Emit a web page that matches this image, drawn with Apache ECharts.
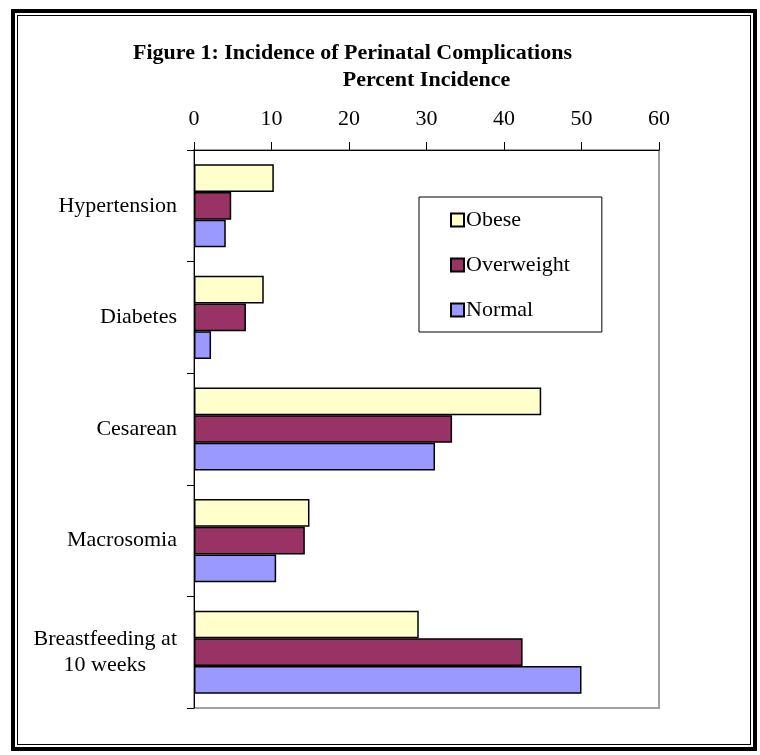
<!DOCTYPE html>
<html>
<head>
<meta charset="utf-8">
<script src="https://cdn.jsdelivr.net/npm/echarts@6/dist/echarts.min.js"></script>
<style>
  html, body { margin: 0; padding: 0; background: #fff; }
  #frame { position: absolute; left: 11px; top: 9px; width: 738px; height: 734px; border: 4px solid #000; }
  #frame-inner { position: absolute; left: 2px; top: 2px; right: 2px; bottom: 2px; border: 1px solid #000; }
  #chart { position: absolute; left: 0; top: 0; width: 760px; height: 755px; }
</style>
</head>
<body>
<div id="frame"><div id="frame-inner"></div></div>
<div id="chart"></div>
<script>
// Perinatal complications by maternal weight group (percent incidence)
const categories = ['Hypertension', 'Diabetes', 'Cesarean', 'Macrosomia', 'Breastfeeding at 10 weeks'];
const obese      = [10.3, 9.0, 44.8, 14.9, 29.0];
const overweight = [4.8, 6.7, 33.3, 14.3, 42.4];
const normal     = [4.1, 2.2, 31.1, 10.6, 50.0];
const xTicks = { min: 0, max: 60, step: 10 };

const FONT = '"Liberation Serif", "Times New Roman", serif';
const barBorder = { borderColor: '#000', borderWidth: 1.5 };

const chart = echarts.init(document.getElementById('chart'), null, { renderer: 'canvas' });

chart.setOption({
  backgroundColor: 'transparent',
  animation: false,
  textStyle: { fontFamily: FONT, color: '#000' },
  title: {
    text: 'Figure 1: Incidence of Perinatal Complications',
    left: 128,
    top: 37,
    textStyle: { fontFamily: FONT, fontSize: 22, fontWeight: 'bold', color: '#000' }
  },
  legend: {
    orient: 'vertical',
    left: 419,
    top: 197,
    padding: [12, 32, 11, 31],
    itemGap: 23,
    itemWidth: 13,
    itemHeight: 13,
    icon: 'rect',
    backgroundColor: '#fff',
    borderColor: '#000',
    borderWidth: 1,
    textStyle: { fontFamily: FONT, fontSize: 22, color: '#000', padding: [0, 0, 0, -3] },
    data: ['Obese', 'Overweight', 'Normal']
  },
  grid: {
    left: 194,
    top: 150,
    right: 101,
    bottom: 47,
    show: true,
    borderColor: '#a0a0a0',
    borderWidth: 2,
    backgroundColor: 'transparent'
  },
  xAxis: {
    type: 'value',
    position: 'top',
    min: xTicks.min,
    max: xTicks.max,
    interval: xTicks.step,
    name: 'Percent Incidence',
    nameLocation: 'middle',
    nameGap: 59,
    nameTextStyle: { fontFamily: FONT, fontSize: 22, fontWeight: 'bold', color: '#000' },
    axisLine: { show: true, lineStyle: { color: '#000', width: 1 } },
    axisTick: { show: true, inside: false, length: 8, lineStyle: { color: '#000' } },
    axisLabel: { fontFamily: FONT, fontSize: 22, color: '#000', margin: 20 },
    splitLine: { show: false }
  },
  yAxis: {
    type: 'category',
    inverse: true,
    data: categories,
    axisLine: { show: true, lineStyle: { color: '#000', width: 1 } },
    axisTick: { show: true, inside: false, length: 7, lineStyle: { color: '#000' } },
    axisLabel: {
      fontFamily: FONT,
      fontSize: 22,
      color: '#000',
      margin: 17,
      lineHeight: 26,
      formatter: function (v) {
        if (v === 'Breastfeeding at 10 weeks') {
          return '{a|Breastfeeding at}\n{b|10 weeks}';
        }
        return v;
      },
      rich: {
        a: { fontFamily: FONT, fontSize: 22, color: '#000', lineHeight: 26 },
        b: { fontFamily: FONT, fontSize: 22, color: '#000', lineHeight: 26, padding: [0, 31, 0, 0] }
      }
    },
    splitLine: { show: false }
  },
  series: [
    { name: 'Obese', type: 'bar', data: obese, barGap: '0%', barCategoryGap: '25.5%',
      itemStyle: Object.assign({ color: '#FFFFCC' }, barBorder) },
    { name: 'Overweight', type: 'bar', data: overweight, barGap: '0%', barCategoryGap: '25.5%',
      itemStyle: Object.assign({ color: '#993366' }, barBorder) },
    { name: 'Normal', type: 'bar', data: normal, barGap: '0%', barCategoryGap: '25.5%',
      itemStyle: Object.assign({ color: '#9999FF' }, barBorder) }
  ]
});
</script>
</body>
</html>
